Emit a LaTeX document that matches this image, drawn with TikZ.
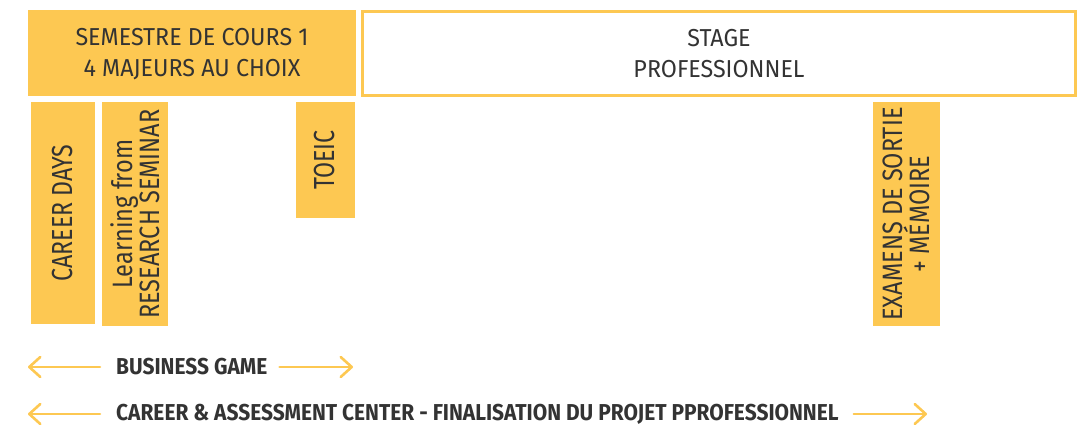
\documentclass[tikz,border=0pt]{standalone}
\usepackage{fontspec}
\setmainfont{Fira Sans}[FakeStretch=0.95]
\newfontfamily\bfam{Fira Sans}[FakeStretch=0.91]
\newfontfamily\rfam{Fira Sans}[FakeStretch=0.80]
\newfontfamily\rtfam{Fira Sans}[FakeStretch=0.84]
\usetikzlibrary{arrows.meta}
\definecolor{ybox}{HTML}{FDC852}
\definecolor{ytxt}{HTML}{333333}
\tikzset{
  fillbox/.style={fill=ybox, draw=none, inner sep=0pt},
  lbl/.style={text=ytxt, inner sep=0pt, align=center},
  arr/.style={draw=ybox, line width=2.6pt, line cap=round, -{Straight Barb[length=11pt,width=20pt,line width=2.6pt, round]}},
}
\begin{document}
\begin{tikzpicture}[x=1pt,y=-1pt]
\useasboundingbox (0,0) rectangle (1081,430);
% top boxes
\path[fillbox] (28,10) rectangle (356,96);
\node[lbl, font=\fontsize{24.5}{31}\selectfont] (sem) at (192,54) {SEMESTRE DE COURS 1\\4 MAJEURS AU CHOIX};
\draw[draw=ybox, line width=3pt, fill=white] (362.5,11.5) rectangle (1075.5,95.5);
\node[lbl, font=\fontsize{24.5}{31}\selectfont] (stage) at (719,54) {STAGE\\PROFESSIONNEL};
% vertical boxes
\path[fillbox] (31,102) rectangle (95,324);
\node[lbl, rotate=90, font=\rfam\fontsize{29}{30}\selectfont] (cd) at (63,213) {CAREER DAYS};
\path[fillbox] (102,102) rectangle (168,326);
\node[lbl, rotate=90, font=\rtfam\fontsize{28}{26.5}\selectfont] (lr) at (135,214) {Learning from\\RESEARCH SEMINAR};
\path[fillbox] (296,102) rectangle (355,218);
\node[lbl, rotate=90, font=\rfam\fontsize{29}{30}\selectfont] (toeic) at (325,160) {TOEIC};
\path[fillbox] (873,102) rectangle (940,326);
\node[lbl, rotate=90, font=\rtfam\fontsize{28}{27}\selectfont] (ex) at (906,214) {EXAMENS DE SORTIE\\+ MÉMOIRE};
% bottom rows
\node[lbl, anchor=west, font=\bfam\bfseries\fontsize{23}{26}\selectfont] (bg) at (116,367) {BUSINESS GAME};
\coordinate (bgL) at (28,367);
\coordinate (bgR) at (353,367);
\draw[arr] ([xshift=-16pt]bg.west) -- (bgL);
\draw[arr] ([xshift=12pt]bg.east) -- (bgR);
\node[lbl, anchor=west, font=\bfam\bfseries\fontsize{23}{26}\selectfont] (cac) at (116,414) {CAREER \& ASSESSMENT CENTER - FINALISATION DU PROJET PPROFESSIONNEL};
\coordinate (cacL) at (28,414);
\coordinate (cacR) at (927,414);
\draw[arr] ([xshift=-16pt]cac.west) -- (cacL);
\draw[arr] ([xshift=15pt]cac.east) -- (cacR);
\end{tikzpicture}
\end{document}
